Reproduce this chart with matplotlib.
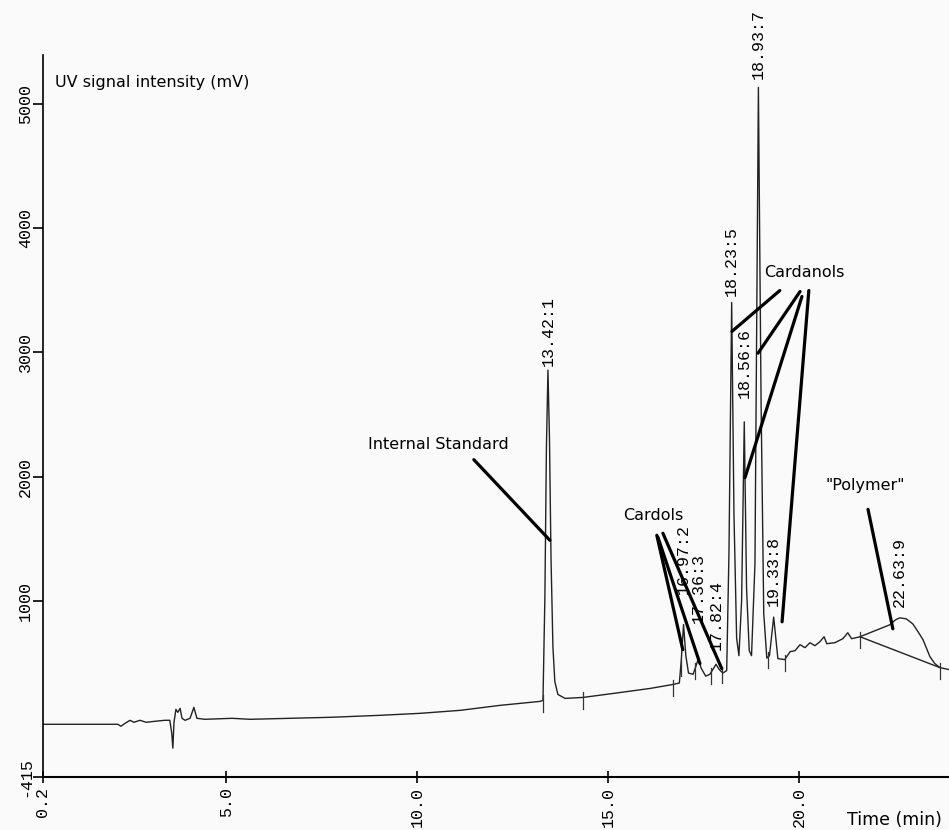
import numpy as np
import matplotlib.pyplot as plt

# chromatogram trace (time in min, UV signal in mV)
time_min = [0.20, 1.69, 2.16, 2.24, 2.35, 2.48, 2.58, 2.74, 2.90, 3.13, 3.39, 3.52,
            3.57, 3.60, 3.63, 3.68, 3.73, 3.79, 3.84, 3.92, 4.05, 4.15, 4.23, 4.44,
            5.15, 5.62, 6.67, 7.71, 9.02, 10.07, 11.12, 12.16, 13.21,
            13.29, 13.34, 13.38, 13.42, 13.46, 13.50, 13.55, 13.60, 13.68, 13.87,
            14.34, 15.13, 16.09, 16.69, 16.86, 16.91, 16.97, 17.03, 17.10,
            17.22, 17.30, 17.36, 17.43, 17.55, 17.66, 17.74, 17.82, 17.90, 18.00,
            18.10, 18.16, 18.23, 18.29, 18.36, 18.42, 18.49, 18.56, 18.62, 18.69,
            18.75, 18.84, 18.93, 19.00, 19.07, 19.15, 19.22, 19.33, 19.44,
            19.62, 19.76, 19.89, 20.02, 20.15, 20.28, 20.41, 20.54, 20.65, 20.72,
            20.93, 21.14, 21.27, 21.37, 21.59, 21.85, 22.11, 22.37, 22.52, 22.63,
            22.80, 22.97, 23.11, 23.24, 23.42, 23.55, 23.68, 23.92]
signal_mv = [8, 8, 8, -8, 16, 40, 24, 40, 24, 32, 40, 40,
             -60, -184, 24, 128, 104, 136, 56, 40, 56, 144, 56, 48,
             56, 48, 56, 64, 80, 96, 120, 160, 192,
             200, 1032, 2232, 2856, 2312, 1352, 632, 352, 248, 216,
             224, 256, 296, 328, 340, 520, 810, 560, 420,
             410, 480, 540, 460, 395, 410, 450, 490, 450, 420,
             440, 1400, 3400, 1700, 700, 560, 1000, 2440, 1100, 600,
             560, 1300, 5130, 2600, 900, 540, 560, 870, 536,
             528, 592, 600, 648, 624, 664, 640, 672, 712, 656,
             664, 696, 744, 696, 712, 744, 776, 808, 848, 864,
             856, 816, 752, 688, 552, 496, 464, 448]

# integrated peaks
peak_times = [13.42, 16.97, 17.36, 17.82, 18.23, 18.56, 18.93, 19.33, 22.63]
peak_ids = [1, 2, 3, 4, 5, 6, 7, 8, 9]

# integration marks and the polymer baseline
mark_times = [13.29, 14.34, 16.69, 16.90, 17.28, 17.68, 17.98, 19.18, 19.62, 21.59, 23.68]
poly_base_t = [21.59, 23.68]
poly_base_mv = [712, 464]

xticks = [0.2, 5.0, 10.0, 15.0, 20.0]
yticks = [-415, 1000, 2000, 3000, 4000, 5000]

mono = 'Liberation Mono'

fig = plt.figure(figsize=(9.49, 8.3), dpi=100, facecolor='#fafafa')
ax = fig.add_axes([0.0453, 0.064, 0.9547, 0.870])
ax.set_facecolor('#fafafa')

ax.plot(time_min, signal_mv, color='#222222', lw=1.0)
ax.plot(poly_base_t, poly_base_mv, color='#222222', lw=1.0)

# small vertical marks at the peak start / end points
for t in mark_times:
    v = np.interp(t, time_min, signal_mv)
    ax.plot([t, t], [v - 90, v + 40], color='#333333', lw=0.9)

# retention time labels
label_pad = [3, 22, 25, 10, 5, 17, 6, 8, 8]
for t, i, pad in zip(peak_times, peak_ids, label_pad):
    top = np.interp(t, time_min, signal_mv)
    ax.annotate(f'{t:.2f}:{i}', xy=(t, top), xytext=(0, pad), textcoords='offset points',
                rotation=90, ha='center', va='bottom', fontsize=12, family=mono)

lead = dict(arrowstyle='-', lw=2.3, color='black', shrinkA=0, shrinkB=0)

ax.text(8.71, 2256, 'Internal Standard', fontsize=11.5, va='center', ha='left')
ax.annotate('', xy=(13.47, 1488), xytext=(11.48, 2136), arrowprops=lead)

ax.text(15.38, 1688, 'Cardols', fontsize=11.5, va='center', ha='left')
for start, end in [((16.27, 1528), (16.95, 608)),
                   ((16.30, 1512), (17.40, 496)),
                   ((16.43, 1544), (17.97, 456))]:
    ax.annotate('', xy=end, xytext=start, arrowprops=lead)

ax.text(19.07, 3640, 'Cardanols', fontsize=11.5, va='center', ha='left')
for start, end in [((19.49, 3496), (18.24, 3168)),
                   ((20.02, 3488), (18.92, 2992)),
                   ((20.07, 3448), (18.58, 1992)),
                   ((20.25, 3496), (19.55, 832))]:
    ax.annotate('', xy=end, xytext=start, arrowprops=lead)

ax.text(21.73, 1928, '"Polymer"', fontsize=11.5, va='center', ha='center')
ax.annotate('', xy=(22.45, 776), xytext=(21.80, 1736), arrowprops=lead)

ax.set_xlim(0.2, 23.92)
ax.set_ylim(-415, 5392)
ax.set_xticks(xticks)
ax.set_xticklabels([f'{x:.1f}' for x in xticks], rotation=90, family=mono, fontsize=12)
ax.set_yticks(yticks)
ax.set_yticklabels([str(y) for y in yticks], rotation=90, va='center', family=mono, fontsize=12)
ax.tick_params(axis='x', direction='inout', length=9, width=1.2, pad=3)
ax.tick_params(axis='y', direction='out', length=7, width=1.2, pad=0)
ax.spines['top'].set_visible(False)
ax.spines['right'].set_visible(False)
ax.spines['left'].set_linewidth(1.2)
ax.spines['bottom'].set_linewidth(1.5)

fig.text(55 / 949, 1 - 82 / 830, 'UV signal intensity (mV)', fontsize=11.5, va='center', ha='left')
fig.text(847 / 949, 1 - 820 / 830, 'Time (min)', fontsize=12.5, va='center', ha='left')

fig.savefig('out.png', dpi=100, facecolor=fig.get_facecolor())
